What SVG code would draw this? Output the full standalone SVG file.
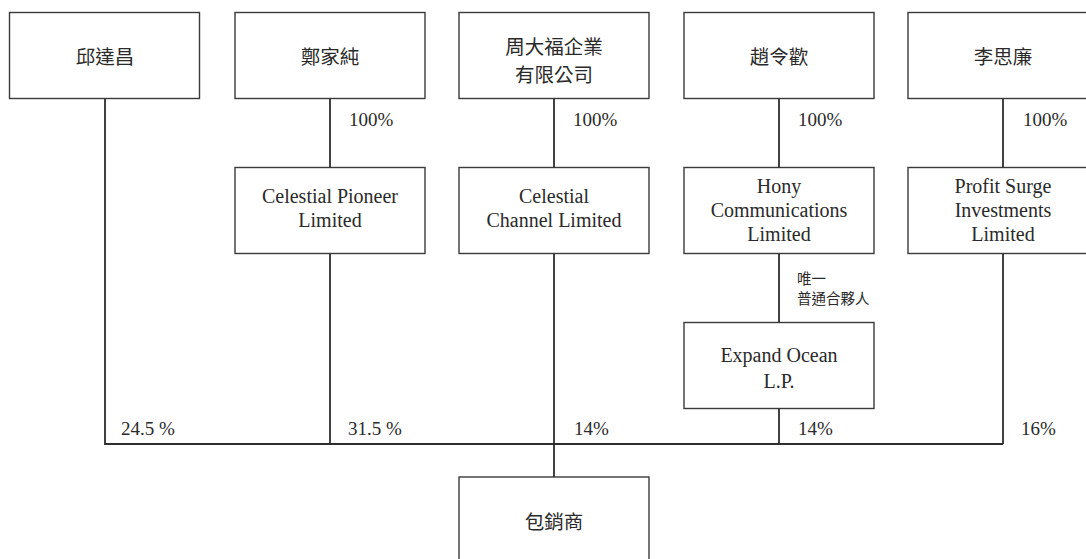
<svg xmlns="http://www.w3.org/2000/svg" width="1086" height="559" viewBox="0 0 1086 559">
<style>
.box{fill:#fff;stroke:#3a3a3a;stroke-width:1.4}
.ln{fill:none;stroke:#2e2e2e;stroke-width:1.8}
.en{font-family:"Liberation Serif","DejaVu Serif",serif;font-size:20px;fill:#2a2a2a;text-anchor:middle}
.zh{font-family:"Noto Sans CJK TC","Noto Sans CJK SC",sans-serif;font-size:19.5px;fill:#2a2a2a;text-anchor:middle;dominant-baseline:central}
.pc{font-family:"Liberation Serif","DejaVu Serif",serif;font-size:19px;fill:#2a2a2a}
.sm{font-family:"Noto Sans CJK TC","Noto Sans CJK SC",sans-serif;font-size:14.5px;fill:#2a2a2a;dominant-baseline:central}
</style>
<rect width="1086" height="559" fill="#fff"/>
<g id="connectors">
<path class="ln" d="M105 98V444H1003"/>
<path class="ln" d="M330 98V167M330 253V444"/>
<path class="ln" d="M554 98V167M554 253V477"/>
<path class="ln" d="M779 98V167M779 253V322M779 408V444"/>
<path class="ln" d="M1003 98V167M1003 253V444"/>
<text class="pc" x="349" y="126">100%</text>
<text class="pc" x="573" y="126">100%</text>
<text class="pc" x="798" y="126">100%</text>
<text class="pc" x="1023" y="126">100%</text>
<text class="sm" x="797" y="277">唯一</text>
<text class="sm" x="797" y="297">普通合夥人</text>
<text class="pc" x="121" y="435">24.5 %</text>
<text class="pc" x="348" y="435">31.5 %</text>
<text class="pc" x="574" y="435">14%</text>
<text class="pc" x="798" y="435">14%</text>
<text class="pc" x="1021" y="435">16%</text>
</g>
<g id="n1"><rect class="box" x="9.5" y="12.5" width="190" height="86"/><text class="zh" x="105" y="55">邱達昌</text></g>
<g id="n2"><rect class="box" x="235" y="12.5" width="190" height="86"/><text class="zh" x="330" y="55">鄭家純</text></g>
<g id="n3"><rect class="box" x="459" y="12.5" width="190" height="86"/><text class="zh" x="554" y="45">周大福企業</text><text class="zh" x="554" y="73.5">有限公司</text></g>
<g id="n4"><rect class="box" x="684" y="12.5" width="190" height="86"/><text class="zh" x="779" y="55">趙令歡</text></g>
<g id="n5"><rect class="box" x="908" y="12.5" width="190" height="86"/><text class="zh" x="1003" y="55">李思廉</text></g>
<g id="n6"><rect class="box" x="235" y="167.5" width="190" height="86"/><text class="en" x="330" y="203">Celestial Pioneer</text><text class="en" x="330" y="227">Limited</text></g>
<g id="n7"><rect class="box" x="459" y="167.5" width="190" height="86"/><text class="en" x="554" y="203">Celestial</text><text class="en" x="554" y="227">Channel Limited</text></g>
<g id="n8"><rect class="box" x="684" y="167.5" width="190" height="86"/><text class="en" x="779" y="193">Hony</text><text class="en" x="779" y="217">Communications</text><text class="en" x="779" y="241">Limited</text></g>
<g id="n9"><rect class="box" x="908" y="167.5" width="190" height="86"/><text class="en" x="1003" y="193">Profit Surge</text><text class="en" x="1003" y="217">Investments</text><text class="en" x="1003" y="241">Limited</text></g>
<g id="n10"><rect class="box" x="684" y="322.5" width="190" height="86"/><text class="en" x="779" y="362">Expand Ocean</text><text class="en" x="779" y="388">L.P.</text></g>
<g id="n11"><rect class="box" x="459" y="477" width="190" height="90"/><text class="zh" x="554" y="520">包銷商</text></g>
</svg>
